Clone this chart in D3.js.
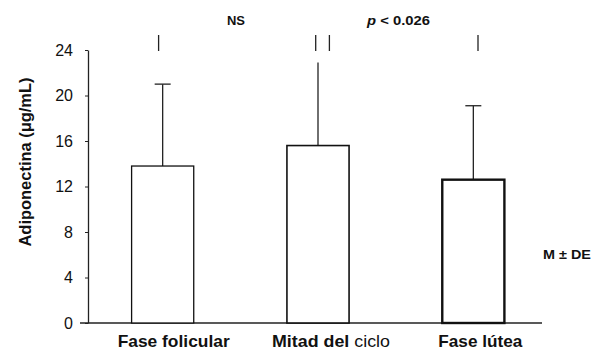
<!DOCTYPE html>
<html><head><meta charset="utf-8">
<script src="https://cdn.jsdelivr.net/npm/d3@7"></script>
<style>body{margin:0;background:#fff}svg{display:block}text{font-family:"Liberation Sans",Arial,sans-serif;fill:#111}</style>
</head><body>
<svg id="c" width="592" height="352"></svg>
<script>
const categories = ["Fase folicular", "Mitad del ciclo", "Fase lútea"];
const means = [13.8, 15.6, 12.6];
const sds = [7.2, 7.3, 6.5];
const yTicks = [0, 4, 8, 12, 16, 20, 24];
const yLabel = "Adiponectina (\u03bcg/mL)";

const svg = d3.select("#c");
const y = d3.scaleLinear().domain([0, 24]).range([323, 50]);
const x = d3.scaleBand().domain(categories).range([85, 551]).paddingInner(0.6).paddingOuter(0.3);
const axisX = 88;

// y axis
const ya = svg.append("g").attr("transform", `translate(${axisX},0)`)
  .call(d3.axisLeft(y).tickValues(yTicks).tickSize(3).tickPadding(12).tickSizeOuter(0));
ya.select(".domain").attr("stroke", "#222").attr("stroke-width", 1.3);
ya.selectAll(".tick line").attr("stroke", "#222");
ya.selectAll(".tick text").attr("font-size", 16).attr("fill", "#222").style("font-family", "Liberation Sans, Arial, sans-serif");

// x axis line
svg.append("line").attr("x1", 80).attr("x2", 542).attr("y1", y(0)).attr("y2", y(0))
  .attr("stroke", "#222").attr("stroke-width", 1.3);

const strokes = [1.3, 1.6, 2.4];
// error bars
categories.forEach((c, i) => {
  const cx = x(c) + x.bandwidth() / 2;
  svg.append("line").attr("x1", cx).attr("x2", cx).attr("y1", y(means[i])).attr("y2", y(means[i] + sds[i]))
    .attr("stroke", "#222").attr("stroke-width", 1.3);
  if (i !== 1) {
    svg.append("line").attr("x1", cx - 8).attr("x2", cx + 8)
      .attr("y1", y(means[i] + sds[i])).attr("y2", y(means[i] + sds[i]))
      .attr("stroke", "#222").attr("stroke-width", 1.3);
  }
});
// bars
svg.selectAll("rect.bar").data(categories).enter().append("rect").attr("class", "bar")
  .attr("x", d => x(d)).attr("width", x.bandwidth())
  .attr("y", (d, i) => y(means[i])).attr("height", (d, i) => y(0) - y(means[i]))
  .attr("fill", "#fff").attr("stroke", "#111").attr("stroke-width", (d, i) => strokes[i]);

// category labels
const lab = svg.append("g");
const lx = [11, 13, 7], lw = [112, 118, 84];
categories.forEach((c, i) => {
  const t = lab.append("text").attr("x", x(c) + x.bandwidth() / 2 + lx[i]).attr("y", 347)
    .attr("text-anchor", "middle").attr("font-size", 16.5)
    .attr("textLength", lw[i]).attr("lengthAdjust", "spacingAndGlyphs");
  if (i === 1) {
    t.append("tspan").attr("font-weight", "bold").text("Mitad del ");
    t.append("tspan").text("ciclo");
  } else {
    t.attr("font-weight", "bold").text(c);
  }
});

// y label
svg.append("text").attr("transform", "translate(31,162) rotate(-90)").attr("text-anchor", "middle")
  .attr("font-size", 16).attr("font-weight", "bold")
  .attr("textLength", 169).attr("lengthAdjust", "spacingAndGlyphs").text(yLabel);

// significance markers
[158.6, 315.7, 329.4, 478].forEach(px => {
  svg.append("line").attr("x1", px).attr("x2", px).attr("y1", 35).attr("y2", 51)
    .attr("stroke", "#222").attr("stroke-width", 1.3);
});
svg.append("text").attr("x", 236).attr("y", 25).attr("text-anchor", "middle")
  .attr("font-size", 12).attr("font-weight", "bold")
  .attr("textLength", 18).attr("lengthAdjust", "spacingAndGlyphs").text("NS");
const pt = svg.append("text").attr("x", 398.5).attr("y", 25).attr("text-anchor", "middle")
  .attr("font-size", 12).attr("font-weight", "bold")
  .attr("textLength", 63).attr("lengthAdjust", "spacingAndGlyphs");
pt.append("tspan").attr("font-style", "italic").text("p");
pt.append("tspan").text(" < 0.026");

svg.append("text").attr("x", 543).attr("y", 259).attr("font-size", 12).attr("font-weight", "bold")
  .attr("textLength", 48).attr("lengthAdjust", "spacingAndGlyphs").text("M \u00b1 DE");
</script>
</body></html>
